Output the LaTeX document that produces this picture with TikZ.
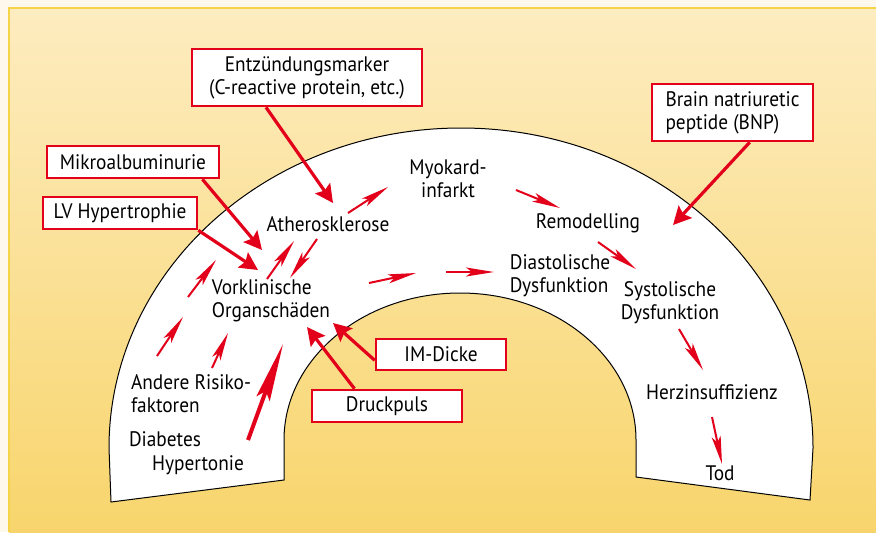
\documentclass[tikz,border=0pt]{standalone}
\usepackage{fontspec}
\setmainfont{PT Sans}[FakeStretch=0.92]
\usetikzlibrary{arrows.meta}

\definecolor{cream}{RGB}{254,248,236}
\definecolor{paneltop}{RGB}{253,236,192}
\definecolor{panelbot}{RGB}{248,213,108}
\definecolor{panelrule}{RGB}{246,212,72}
\definecolor{markred}{RGB}{226,0,26}

\tikzset{
  marker/.style={draw=markred, line width=1.3pt, fill=white, inner sep=0pt,
    font=\fontsize{10.5}{11.5}\selectfont, align=center},
  stage/.style={inner sep=0pt, font=\fontsize{10.5}{11.5}\selectfont},
  bigarrow/.style={markred, line width=1.6pt, -{Stealth[length=9pt,width=9pt,inset=1.5pt]}},
  smallarrow/.style={markred, line width=1pt, -{Stealth[length=14pt,width=4.5pt,inset=3pt]}},
  longarrow/.style={markred, line width=2pt, -{Stealth[length=29pt,width=7pt,inset=4pt]}}
}

\begin{document}
\begin{tikzpicture}[x=0.5pt,y=0.5pt]

\useasboundingbox (0,-532) rectangle (876,0);
\fill[cream] (0,-532) rectangle (876,0);
\shade[top color=paneltop, bottom color=panelbot] (9,-532) rectangle (876,-8);
\draw[panelrule, line width=1pt] (9,-532) -- (9,-8) -- (876,-8);

% the arch
\draw[fill=white, line width=0.5pt] (111,-502) -- (109,-448)
  arc[start angle=180, end angle=0, x radius=352, y radius=320]
  -- (810,-500) -- (636,-477) -- (636,-440)
  arc[start angle=0, end angle=180, x radius=176, y radius=147]
  -- (284,-480) -- cycle;

% stages along the arch
\node[stage, align=left] (hyper) at (198,-465) {Hypertonie};
\node[stage, align=left] (diab) at (165,-439) {Diabetes};
\node[stage, align=left] (risiko) at (191,-394) {Andere Risiko-\\faktoren};
\node[stage, align=left] (vork) at (271,-301) {Vorklinische\\Organschäden};
\node[stage] (ather) at (328,-224) {Atherosklerose};
\node[stage, align=center] (myok) at (448,-179) {Myokard-\\infarkt};
\node[stage] (remod) at (588,-223) {Remodelling};
\node[stage, align=left] (diast) at (560,-276) {Diastolische\\Dysfunktion};
\node[stage, align=center] (syst) at (670,-303) {Systolische\\Dysfunktion};
\node[stage] (herz) at (712,-392) {Herzinsuffizienz};
\node[stage] (tod) at (720,-473) {Tod};

% marker boxes
\node[marker, minimum width=115pt, minimum height=28.5pt] (entz) at (307,-77.5)
  {Entzündungsmarker\\(C-reactive protein, etc.)};
\node[marker, minimum width=86pt, minimum height=16pt] (mikro) at (133,-162) {Mikroalbuminurie};
\node[marker, minimum width=77pt, minimum height=16pt] (lvh) at (120,-213) {LV Hypertrophie};
\node[marker, minimum width=80.5pt, minimum height=28.5pt, align=left] (bnp) at (732.5,-112.5)
  {Brain natriuretic\\peptide (BNP)};
\node[marker, minimum width=65pt, minimum height=15.5pt] (imd) at (441,-354.5) {IM-Dicke};
\node[marker, minimum width=75pt, minimum height=16pt] (druck) at (387,-406) {Druckpuls};

% tips of the marker arrows
\coordinate (entztip) at (333,-203);
\coordinate (mikrotip) at (262,-250);
\coordinate (lvhtip) at (258,-270);
\coordinate (bnptip) at (673,-225);
\coordinate (imdtip) at (333,-323);
\coordinate (drucktip) at (307,-327);

\draw[bigarrow] (entz.216) -- (entztip);
\draw[bigarrow] (mikro.346) -- (mikrotip);
\draw[bigarrow] (lvh.south east) -- (lvhtip);
\draw[bigarrow] (bnp.300) -- (bnptip);
\draw[bigarrow] (imd.185) -- (imdtip);
\draw[bigarrow] (druck.152) -- (drucktip);

% small arrows inside the arch
\coordinate (a1) at (348,-213); \coordinate (b1) at (388,-187);
\coordinate (a2) at (516,-190); \coordinate (b2) at (560,-208);
\coordinate (a3) at (598,-242); \coordinate (b3) at (636,-269);
\coordinate (a4) at (679,-329); \coordinate (b4) at (703,-370);
\coordinate (a5) at (712,-417); \coordinate (b5) at (722,-464);
\coordinate (a6) at (369,-283); \coordinate (b6) at (416,-273);
\coordinate (a7) at (446,-272); \coordinate (b7) at (494,-272);
\coordinate (a8) at (267,-279); \coordinate (b8) at (294,-241);
\coordinate (a9) at (317,-239); \coordinate (b9) at (290,-278);
\coordinate (a10) at (157,-356); \coordinate (b10) at (183,-317);
\coordinate (a11) at (188,-297); \coordinate (b11) at (216,-260);
\coordinate (a12) at (212,-368); \coordinate (b12) at (228,-333);

\foreach \i in {1,...,12}
  \draw[smallarrow] (a\i) -- (b\i);

\coordinate (hyperfoot) at (248,-440);
\coordinate (hypertip) at (283,-344);
\draw[longarrow] (hyperfoot) -- (hypertip);

\end{tikzpicture}
\end{document}
